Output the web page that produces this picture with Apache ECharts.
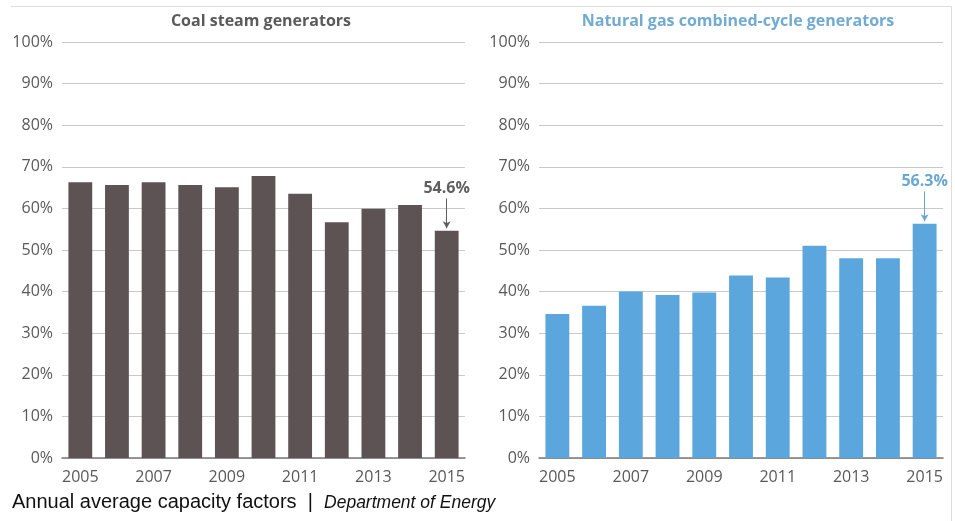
<!DOCTYPE html>
<html>
<head>
<meta charset="utf-8">
<script src="https://cdn.jsdelivr.net/npm/echarts@6/dist/echarts.min.js"></script>
<style>
	html,body{margin:0;padding:0;background:#fff;}
	#main{width:955px;height:521px;}
</style>
</head>
<body>
<div id="main"></div>
<script>
	// data
	var years = ['2005','2006','2007','2008','2009','2010','2011','2012','2013','2014','2015'];
	var coal_list = [66.3, 65.6, 66.3, 65.6, 65.1, 67.8, 63.5, 56.7, 59.9, 60.8, 54.6];
	var gas_list = [34.6, 36.6, 40.0, 39.2, 39.8, 43.9, 43.4, 51.0, 48.0, 48.0, 56.3];
	var y_ticks = [0, 10, 20, 30, 40, 50, 60, 70, 80, 90, 100];

	var coal_color = '#5d5354';
	var gas_color = '#5ba7dd';
	var text_color = '#595959';
	var font = '"Open Sans", sans-serif';
	var cap_font = '"Liberation Sans", Arial, sans-serif';

	//y轴配置
	function yAxisOpt(idx){
		return {
			type: 'value',
			gridIndex: idx,
			min: y_ticks[0],
			max: y_ticks[y_ticks.length - 1],
			interval: y_ticks[1] - y_ticks[0],
			axisLine: {show: false},
			axisTick: {show: false},
			axisLabel: {formatter: '{value}%', color: text_color, fontSize: 16, fontFamily: font, margin: 9},
			splitLine: {lineStyle: {color: '#c9c9c9', width: 1}}
		};
	}
	//x轴配置
	function xAxisOpt(idx){
		return {
			type: 'category',
			gridIndex: idx,
			data: years,
			axisTick: {show: false},
			axisLine: {lineStyle: {color: '#7a7a7a', width: 1.5}},
			axisLabel: {interval: 1, color: text_color, fontSize: 16, fontFamily: font, margin: 11}
		};
	}
	//最后一年的箭头标注
	function arrowLine(list, color){
		var last = list.length - 1;
		return {
			silent: true,
			symbol: ['none', 'arrow'],
			symbolSize: [6, 7],
			lineStyle: {color: color, width: 1, type: 'solid'},
			label: {
				show: true,
				position: 'start',
				distance: 2,
				formatter: list[last].toFixed(1) + '%',
				color: color,
				fontSize: 16,
				fontWeight: 'bold',
				fontFamily: font
			},
			data: [[
				{coord: [years[last], list[last] + 7.8]},
				{coord: [years[last], list[last] + 0.6]}
			]]
		};
	}

	var chart = echarts.init(document.getElementById('main'));
	chart.setOption({
		animation: false,
		backgroundColor: '#fff',
		title: [{
			text: 'Coal steam generators',
			left: 256, top: 8, textAlign: 'center',
			textStyle: {color: '#5a5a5a', fontSize: 16, fontWeight: 'bold', fontFamily: font}
		},{
			text: 'Natural gas combined-cycle generators',
			left: 733, top: 8, textAlign: 'center',
			textStyle: {color: '#72abd2', fontSize: 16, fontWeight: 'bold', fontFamily: font}
		},{
			text: '{a|Annual average capacity factors}{b|  |  }{c|Department of Energy}',
			left: 7, top: 487,
			textStyle: {
				fontWeight: 'normal',
				rich: {
					a: {fontFamily: cap_font, fontSize: 20, fontWeight: 'normal', color: '#111'},
					b: {fontFamily: cap_font, fontSize: 20, fontWeight: 'normal', color: '#111'},
					c: {fontFamily: cap_font, fontSize: 17.5, fontWeight: 'normal', fontStyle: 'italic', color: '#111', padding: [2, 0, 0, 0]}
				}
			}
		}],
		graphic: [{
			type: 'polyline',
			shape: {points: [[11, 6.5], [951.5, 6.5], [951.5, 521]]},
			style: {stroke: '#dcdcdc', lineWidth: 1, fill: null}
		}],
		grid: [
			{left: 62, right: 490, top: 42, bottom: 63},
			{left: 539, right: 12, top: 42, bottom: 63}
		],
		xAxis: [xAxisOpt(0), xAxisOpt(1)],
		yAxis: [yAxisOpt(0), yAxisOpt(1)],
		series: [{
			type: 'bar',
			xAxisIndex: 0,
			yAxisIndex: 0,
			data: coal_list,
			barCategoryGap: '35%',
			itemStyle: {color: coal_color},
			markLine: arrowLine(coal_list, '#5f5f5f')
		},{
			type: 'bar',
			xAxisIndex: 1,
			yAxisIndex: 1,
			data: gas_list,
			barCategoryGap: '35%',
			itemStyle: {color: gas_color},
			markLine: arrowLine(gas_list, '#6aa8d4')
		}]
	});
</script>
</body>
</html>
